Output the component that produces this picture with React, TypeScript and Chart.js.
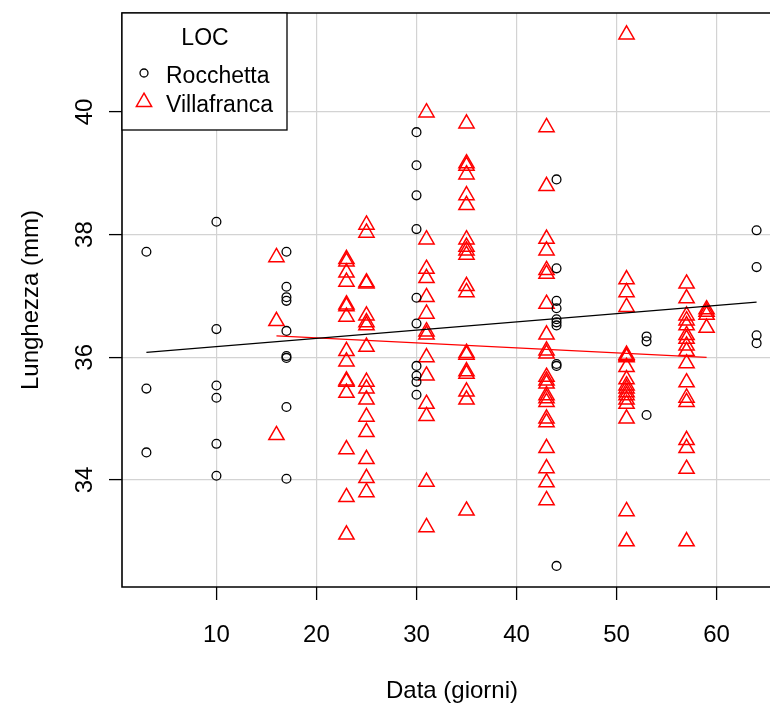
import React, { useEffect, useRef } from "react";
import { Chart, registerables } from "chart.js";

Chart.register(...registerables);

// ---- data ----
const rocchettaDays = [3, 10, 17, 30, 44, 53, 64];
const rocchettaLengths = [
  [37.72, 35.49, 34.45],
  [38.21, 36.46, 35.54, 35.34, 34.59, 34.07],
  [37.72, 37.15, 36.98, 36.92, 36.43, 36.02, 35.99, 35.19, 34.02],
  [39.67, 39.13, 38.64, 38.09, 36.97, 36.55, 35.86, 35.7, 35.6, 35.39],
  [38.9, 37.45, 36.92, 36.8, 36.62, 36.57, 36.52, 35.89, 35.86, 32.6],
  [36.34, 36.26, 35.06],
  [38.07, 37.47, 36.36, 36.23],
];

const villafrancaDays = [16, 23, 25, 31, 35, 43, 51, 57, 59];
const villafrancaLengths = [
  [37.63, 36.59, 34.73],
  [37.6, 37.56, 37.38, 37.23, 36.86, 36.83, 36.66, 36.1, 35.93, 35.62, 35.6, 35.42, 34.5, 33.72, 33.11],
  [38.16, 38.03, 37.22, 37.2, 36.68, 36.57, 36.52, 36.17, 35.6, 35.49, 35.31, 35.03, 34.78, 34.34, 34.03, 33.8],
  [39.99, 37.92, 37.44, 37.29, 36.98, 36.71, 36.42, 36.37, 36.0, 35.7, 35.24, 35.04, 33.97, 33.23],
  [39.81, 39.16, 39.12, 38.98, 38.64, 38.48, 37.92, 37.8, 37.74, 37.67, 37.16, 37.06, 36.07, 36.04, 35.77, 35.73, 35.44, 35.31, 33.5],
  [39.75, 38.79, 37.93, 37.74, 37.42, 37.36, 36.87, 36.37, 36.11, 36.06, 35.68, 35.62, 35.57, 35.38, 35.33, 35.27, 35.0, 34.94, 34.52, 34.19, 33.96, 33.67],
  [41.26, 37.27, 37.06, 36.82, 36.04, 36.02, 36.0, 35.84, 35.64, 35.54, 35.49, 35.43, 35.38, 35.31, 35.24, 35.0, 33.49, 33.0],
  [37.2, 36.96, 36.68, 36.6, 36.52, 36.36, 36.3, 36.19, 36.1, 35.9, 35.59, 35.34, 35.27, 34.65, 34.52, 34.18, 33.0],
  [36.78, 36.74, 36.69, 36.48],
];

// fitted regression lines (end points)
const rocchettaFitX = [3, 64];
const rocchettaFitY = [36.08, 36.9];
const villafrancaFitX = [16, 59];
const villafrancaFitY = [36.35, 36.0];

const xTicks = [10, 20, 30, 40, 50, 60];
const yTicks = [34, 36, 38, 40];

const legendTitle = "LOC";
const seriesNames = ["Rocchetta", "Villafranca"];
const xTitle = "Data (giorni)";
const yTitle = "Lunghezza (mm)";

const toPoints = (days: number[], vals: number[][]) =>
  days.flatMap((d, i) => vals[i].map((v) => ({ x: d, y: v })));
const toLine = (xs: number[], ys: number[]) => xs.map((x, i) => ({ x, y: ys[i] }));

const CW = 800;
const CH = 704;
const FONT = '"Liberation Sans", Arial, Helvetica, sans-serif';

export default function App() {
  const ref = useRef<HTMLCanvasElement>(null);

  useEffect(() => {
    const canvas = ref.current!;
    const rPlugin = {
      id: "rStyle",
      afterDraw(chart: any) {
        const ctx = chart.ctx as CanvasRenderingContext2D;
        const a = chart.chartArea;
        const xs = chart.scales.x;
        const ys = chart.scales.y;
        ctx.save();
        // frame: top, left, bottom (the right side lies beyond the visible picture)
        ctx.strokeStyle = "#000";
        ctx.lineWidth = 1.6;
        ctx.beginPath();
        ctx.moveTo(CW, a.top);
        ctx.lineTo(a.left, a.top);
        ctx.lineTo(a.left, a.bottom);
        ctx.lineTo(CW, a.bottom);
        ctx.stroke();

        ctx.fillStyle = "#000";
        ctx.font = `24px ${FONT}`;
        ctx.textBaseline = "alphabetic";
        ctx.textAlign = "center";
        // x tick labels
        xTicks.forEach((v) => ctx.fillText(String(v), xs.getPixelForValue(v), 642));
        // y tick labels (rotated)
        yTicks.forEach((v) => {
          ctx.save();
          ctx.translate(92, ys.getPixelForValue(v));
          ctx.rotate(-Math.PI / 2);
          ctx.fillText(String(v), 0, 0);
          ctx.restore();
        });
        // axis titles
        ctx.fillText(xTitle, 452, 698);
        ctx.save();
        ctx.translate(38, (a.top + a.bottom) / 2);
        ctx.rotate(-Math.PI / 2);
        ctx.fillText(yTitle, 0, 0);
        ctx.restore();

        // legend box
        const lx = a.left, ly = a.top, lw = 165, lh = 117;
        ctx.fillStyle = "#fff";
        ctx.fillRect(lx, ly, lw, lh);
        ctx.strokeStyle = "#000";
        ctx.lineWidth = 1.3;
        ctx.strokeRect(lx, ly, lw, lh);
        ctx.fillStyle = "#000";
        ctx.font = `23px ${FONT}`;
        ctx.textAlign = "center";
        ctx.fillText(legendTitle, 205, 45);
        ctx.textAlign = "left";
        ctx.fillText(seriesNames[0], 166, 83);
        ctx.fillText(seriesNames[1], 166, 112);
        // legend symbols
        ctx.beginPath();
        ctx.lineWidth = 1.3;
        ctx.arc(144, 73, 4, 0, Math.PI * 2);
        ctx.stroke();
        const r = 8.8, cx = 144, cy = 102;
        ctx.beginPath();
        ctx.strokeStyle = "#ff0000";
        ctx.lineWidth = 1.5;
        for (let k = 0; k < 3; k++) {
          const ang = (k * 2 * Math.PI) / 3;
          const px = cx + Math.sin(ang) * r;
          const py = cy - Math.cos(ang) * r;
          if (k === 0) ctx.moveTo(px, py);
          else ctx.lineTo(px, py);
        }
        ctx.closePath();
        ctx.stroke();
        ctx.restore();
      },
    };

    const chart = new Chart(canvas, {
      type: "scatter",
      data: {
        datasets: [
          {
            label: "fitR",
            data: toLine(rocchettaFitX, rocchettaFitY),
            showLine: true,
            borderColor: "#000",
            borderWidth: 1.3,
            pointRadius: 0,
            fill: false,
          },
          {
            label: "fitV",
            data: toLine(villafrancaFitX, villafrancaFitY),
            showLine: true,
            borderColor: "#ff0000",
            borderWidth: 1.3,
            pointRadius: 0,
            fill: false,
          },
          {
            label: seriesNames[0],
            data: toPoints(rocchettaDays, rocchettaLengths),
            pointStyle: "circle",
            pointRadius: 4.4,
            borderColor: "#000",
            borderWidth: 1.3,
            backgroundColor: "rgba(0,0,0,0)",
          },
          {
            label: seriesNames[1],
            data: toPoints(villafrancaDays, villafrancaLengths),
            pointStyle: "triangle",
            pointRadius: 8.8,
            borderColor: "#ff0000",
            borderWidth: 1.5,
            backgroundColor: "rgba(0,0,0,0)",
          },
        ],
      },
      options: {
        animation: false,
        responsive: false,
        devicePixelRatio: 1,
        events: [],
        layout: { padding: { top: 13, right: CW - 781, left: 0, bottom: 0 } },
        plugins: { legend: { display: false }, tooltip: { enabled: false } },
        scales: {
          x: {
            type: "linear",
            min: 0.56,
            max: 66.44,
            afterBuildTicks: (s: any) => {
              s.ticks = xTicks.map((v) => ({ value: v }));
            },
            afterFit: (s: any) => {
              s.height = 117;
            },
            grid: {
              color: "#d3d3d3",
              lineWidth: 1.2,
              tickColor: "#000",
              tickLength: 13,
              tickWidth: 1.3,
            },
            border: { display: false },
            ticks: { display: false },
          },
          y: {
            type: "linear",
            min: 32.256,
            max: 41.612,
            afterBuildTicks: (s: any) => {
              s.ticks = yTicks.map((v) => ({ value: v }));
            },
            afterFit: (s: any) => {
              s.width = 122;
            },
            grid: {
              color: "#d3d3d3",
              lineWidth: 1.2,
              tickColor: "#000",
              tickLength: 13,
              tickWidth: 1.3,
            },
            border: { display: false },
            ticks: { display: false },
          },
        },
      },
      plugins: [rPlugin],
    } as any);
    return () => chart.destroy();
  }, []);

  return (
    <div
      style={{
        position: "fixed",
        left: 0,
        top: 0,
        width: "100vw",
        height: "100vh",
        overflow: "hidden",
        background: "#fff",
      }}
    >
      <canvas ref={ref} width={CW} height={CH} style={{ display: "block", width: CW, height: CH }} />
    </div>
  );
}
